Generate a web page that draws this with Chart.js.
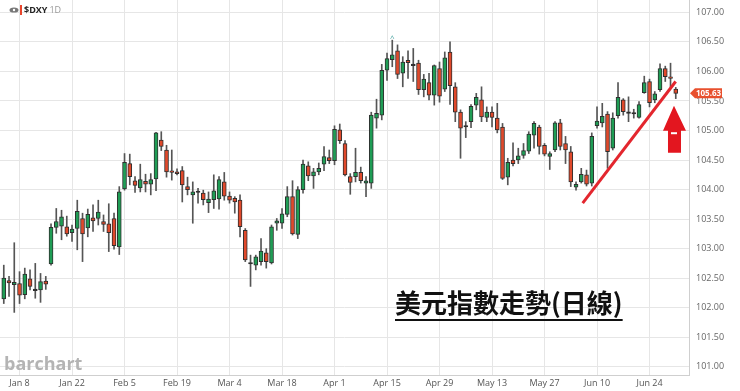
<!DOCTYPE html>
<html>
<head>
<meta charset="utf-8">
<script src="https://cdn.jsdelivr.net/npm/chart.js@4/dist/chart.umd.min.js"></script>
<style>
html, body { margin: 0; padding: 0; background: #fff; }
#wrap { position: relative; width: 740px; height: 391px; }
</style>
</head>
<body>
<div id="wrap"><canvas id="myChart" width="740" height="391"></canvas></div>
<script>
// $DXY daily candles, Jan 3 .. Jul 1 (one value per trading day)
const opens = [
  102.15, 102.46, 102.39, 102.41, 102.22, 102.49, 102.29, 102.30, 102.45, 102.74,
  103.36, 103.38, 103.37, 103.27, 103.34, 103.51, 103.35, 103.52, 103.51, 103.46,
  103.42, 103.51, 103.03, 104.01, 104.44, 104.15, 104.03, 104.14, 104.09, 104.18,
  104.84, 104.67, 104.30, 104.30, 104.32, 104.05, 103.91, 103.95, 103.94, 103.78,
  103.83, 103.84, 104.13, 103.89, 103.85, 103.82, 103.31, 102.74, 102.72, 102.78,
  102.93, 102.76, 103.43, 103.43, 103.58, 103.88, 103.24, 104.00, 104.40, 104.23,
  104.30, 104.43, 104.54, 104.49, 105.01, 104.78, 104.22, 104.22, 104.29, 104.11,
  104.11, 105.21, 105.26, 106.02, 106.20, 106.35, 105.97, 106.19, 106.10, 106.14,
  105.69, 105.81, 105.60, 106.05, 105.70, 106.33, 105.74, 105.31, 105.06, 105.15,
  105.43, 105.52, 105.22, 105.31, 105.21, 105.06, 104.21, 104.50, 104.50, 104.58,
  104.65, 104.92, 105.06, 104.75, 104.56, 104.67, 105.13, 104.78, 104.64, 104.04,
  104.13, 104.25, 104.11, 105.08, 105.13, 105.28, 104.70, 105.25, 105.52, 105.29,
  105.28, 105.22, 105.64, 105.83, 105.52, 105.69, 106.05, 105.91, 105.70
];
const highs = [
  102.72, 102.53, 103.10, 102.61, 102.67, 102.64, 102.75, 102.58, 102.53, 103.42,
  103.68, 103.65, 103.55, 103.40, 103.82, 103.60, 103.67, 103.74, 103.82, 103.57,
  103.76, 103.60, 104.05, 104.61, 104.60, 104.22, 104.43, 104.26, 104.27, 104.97,
  104.98, 104.75, 104.67, 104.35, 104.39, 104.21, 104.13, 104.02, 103.99, 103.96,
  104.25, 104.22, 104.29, 103.96, 103.88, 103.91, 103.34, 102.89, 102.89, 103.17,
  103.00, 103.40, 103.51, 103.68, 104.05, 104.15, 104.05, 104.50, 104.47, 104.36,
  104.45, 104.73, 104.67, 105.08, 105.11, 104.83, 104.27, 104.70, 104.38, 104.22,
  105.31, 105.53, 106.12, 106.31, 106.53, 106.45, 106.25, 106.35, 106.39, 106.19,
  105.95, 105.97, 106.11, 106.16, 106.33, 106.50, 105.81, 105.35, 105.15, 105.44,
  105.63, 105.74, 105.40, 105.40, 105.46, 105.12, 104.53, 104.79, 104.70, 104.78,
  104.98, 105.15, 105.09, 104.78, 104.64, 105.15, 105.19, 104.90, 104.73, 104.13,
  104.36, 104.33, 104.96, 105.40, 105.46, 105.32, 105.30, 105.81, 105.54, 105.57,
  105.36, 105.49, 105.92, 105.87, 105.66, 106.13, 106.09, 106.14, 105.73
];
const lows = [
  102.07, 102.19, 101.92, 102.07, 102.15, 102.30, 102.16, 102.09, 102.31, 102.72,
  103.26, 103.15, 103.21, 103.12, 102.98, 102.78, 103.20, 103.29, 103.40, 103.29,
  102.95, 102.99, 102.90, 103.99, 104.08, 103.95, 103.96, 103.96, 103.91, 103.98,
  104.66, 104.21, 104.16, 104.25, 103.79, 103.91, 103.43, 103.77, 103.74, 103.61,
  103.68, 103.67, 103.82, 103.77, 103.60, 103.20, 102.78, 102.36, 102.64, 102.72,
  102.67, 102.74, 103.31, 103.34, 103.54, 103.23, 103.17, 103.94, 104.15, 104.02,
  104.25, 104.32, 104.44, 104.42, 104.78, 104.23, 103.92, 104.13, 104.11, 103.88,
  104.02, 105.04, 105.18, 105.85, 106.08, 105.88, 105.74, 105.88, 105.83, 105.61,
  105.57, 105.52, 105.43, 105.48, 105.66, 105.44, 105.15, 104.53, 104.88, 105.05,
  105.35, 105.15, 105.15, 105.06, 104.96, 104.17, 104.08, 104.40, 104.44, 104.53,
  104.61, 104.70, 104.60, 104.57, 104.34, 104.64, 104.67, 104.44, 104.05, 103.99,
  104.11, 104.06, 104.06, 105.04, 105.06, 104.36, 104.67, 105.21, 105.26, 105.15,
  105.21, 105.21, 105.63, 105.40, 105.47, 105.66, 105.83, 105.74, 105.54
];
const closes = [
  102.50, 102.42, 102.43, 102.21, 102.57, 102.36, 102.29, 102.44, 102.40, 103.36,
  103.46, 103.54, 103.25, 103.33, 103.63, 103.25, 103.58, 103.47, 103.62, 103.41,
  103.27, 103.05, 103.96, 104.46, 104.22, 104.07, 104.17, 104.09, 104.17, 104.96,
  104.73, 104.30, 104.29, 104.27, 104.08, 104.00, 103.96, 103.95, 103.83, 103.84,
  103.98, 104.17, 103.89, 103.82, 103.79, 103.37, 102.81, 102.74, 102.86, 102.96,
  102.78, 103.37, 103.47, 103.59, 103.88, 103.25, 104.00, 104.43, 104.23, 104.30,
  104.36, 104.56, 104.49, 105.02, 104.83, 104.25, 104.12, 104.29, 104.15, 104.15,
  105.26, 105.29, 106.02, 106.22, 106.28, 105.95, 106.16, 106.15, 106.10, 105.69,
  105.87, 105.60, 106.10, 105.58, 106.23, 105.76, 105.31, 105.04, 105.06, 105.41,
  105.56, 105.23, 105.31, 105.22, 105.01, 104.19, 104.46, 104.44, 104.57, 104.66,
  104.94, 105.12, 104.73, 104.60, 104.61, 105.13, 104.73, 104.67, 104.13, 104.09,
  104.26, 104.09, 104.90, 105.16, 105.24, 104.64, 105.21, 105.56, 105.32, 105.29,
  105.28, 105.44, 105.81, 105.47, 105.62, 106.05, 105.91, 105.88, 105.63
];

// tick labels (bi-weekly Mondays) and the candle index they sit on
const tickAt = [3, 13, 23, 33, 43, 53, 63, 73, 83, 93, 103, 113, 123];
const tickLabels = ['Jan 8', 'Jan 22', 'Feb 5', 'Feb 19', 'Mar 4', 'Mar 18', 'Apr 1',
  'Apr 15', 'Apr 29', 'May 13', 'May 27', 'Jun 10', 'Jun 24'];
const priceTicks = [101.0, 101.5, 102.0, 102.5, 103.0, 103.5, 104.0, 104.5, 105.0, 105.5, 106.0, 106.5, 107.0];
const lastPrice = 105.63;
const highMarkAt = 74; // candle carrying the "^" high marker
// hand drawn trend line (candle index, price)
const trendLine = [{ x: 110.27, y: 103.77 }, { x: 127.98, y: 105.83 }];
const arrowTip = { x: 127.66, y: 105.42 };
const title = '美元指數走勢(日線)';

const green = '#1f9d55';
const red = '#e0492b';

const wicks = highs.map((h, i) => ({ x: i, y: [lows[i], h] }));
const bodies = opens.map((o, i) => ({ x: i, y: [o, closes[i]] }));
const bodyColors = opens.map((o, i) => closes[i] > o ? green : (closes[i] < o ? red : '#222'));

// no label overflow padding, the plot runs to the canvas edges
function noPad(s) {
    s.paddingTop = 0;
    s.paddingBottom = 0;
    s.paddingLeft = 0;
    s.paddingRight = 0;
}

// extra drawing: legend, watermark, title, arrow, price tag
const overlay = {
    id: 'overlay',
    afterDraw(chart) {
        const c = chart.ctx;
        const xs = chart.scales.x, ys = chart.scales.y;
        c.save();

        // top-left legend
        c.fillStyle = '#777';
        c.beginPath();
        c.ellipse(14, 10, 4.5, 2.6, 0, 0, Math.PI * 2);
        c.fill();
        c.fillStyle = '#fff';
        c.beginPath();
        c.arc(14, 10, 1.2, 0, Math.PI * 2);
        c.fill();
        c.fillStyle = '#e8452c';
        c.fillRect(20, 5, 2, 10);
        c.textBaseline = 'middle';
        c.font = 'bold 9px "Open Sans"';
        c.fillStyle = '#222';
        c.fillText('$DXY', 24, 10);
        const w = c.measureText('$DXY').width;
        c.font = '9px "Open Sans"';
        c.fillStyle = '#999';
        c.fillText('1D', 24 + w + 2, 10);

        // watermark
        c.font = 'bold 18px "Open Sans"';
        c.fillStyle = '#b4b4b4';
        c.textBaseline = 'alphabetic';
        c.fillText('barchart', 4, 370);

        // high marker
        c.font = '8px "Open Sans"';
        c.fillStyle = '#4aa3a0';
        c.textAlign = 'center';
        c.textBaseline = 'bottom';
        c.fillText('^', xs.getPixelForValue(highMarkAt), ys.getPixelForValue(highs[highMarkAt]) + 3);

        // title with underline
        c.font = 'bold 26px "Noto Sans CJK TC"';
        c.fillStyle = '#111';
        c.textAlign = 'left';
        c.textBaseline = 'middle';
        c.fillText(title, 395, 303);
        const tw = c.measureText(title).width;
        c.fillRect(395, 319, tw, 2);

        // red arrow pointing at the last candle
        const ax = xs.getPixelForValue(arrowTip.x), ay = ys.getPixelForValue(arrowTip.y);
        c.fillStyle = '#e3161f';
        c.beginPath();
        c.moveTo(ax, ay);
        c.lineTo(ax + 12, ay + 25);
        c.lineTo(ax + 7, ay + 25);
        c.lineTo(ax + 7, ay + 47);
        c.lineTo(ax - 6, ay + 47);
        c.lineTo(ax - 6, ay + 25);
        c.lineTo(ax - 11, ay + 25);
        c.closePath();
        c.fill();
        c.fillStyle = '#fff';
        c.fillRect(ax - 3, ay + 26.5, 6, 2);

        // last price tag
        const py = ys.getPixelForValue(lastPrice);
        const left = chart.chartArea.right + 1;
        c.fillStyle = '#e8502e';
        c.beginPath();
        c.moveTo(left, py);
        c.lineTo(left + 5, py - 5);
        c.lineTo(left + 32, py - 5);
        c.lineTo(left + 32, py + 5);
        c.lineTo(left + 5, py + 5);
        c.closePath();
        c.fill();
        c.font = 'bold 8px "Open Sans"';
        c.fillStyle = '#fff';
        c.textAlign = 'center';
        c.fillText(lastPrice.toFixed(2), left + 18.5, py + 0.5);

        c.restore();
    }
};

const ctx = document.getElementById('myChart').getContext('2d');
const chart = new Chart(ctx, {
    type: 'bar',
    data: {
        datasets: [{
            type: 'line',
            data: trendLine,
            borderColor: '#e3262e',
            borderWidth: 3,
            pointRadius: 0,
            order: 1
        }, {
            data: bodies,
            backgroundColor: bodyColors,
            borderColor: '#2f2f2f',
            borderWidth: 1,
            borderSkipped: false,
            barThickness: 4,
            minBarLength: 1.5,
            grouped: false,
            order: 2
        }, {
            data: wicks,
            backgroundColor: '#555',
            borderWidth: 0,
            barThickness: 1,
            grouped: false,
            order: 3
        }]
    },
    options: {
        responsive: false,
        animation: false,
        devicePixelRatio: 1,
        layout: { padding: 0 },
        plugins: {
            legend: { display: false },
            tooltip: { enabled: false }
        },
        scales: {
            x: {
                type: 'linear',
                min: -0.72,
                max: 130.52,
                offset: false,
                grid: { color: '#e6e6e6', drawTicks: false, offset: false },
                border: { display: true, color: '#cfcfcf' },
                ticks: {
                    autoSkip: false,
                    maxRotation: 0,
                    padding: 3,
                    color: '#555',
                    font: { size: 9, family: 'Open Sans' },
                    callback: (v, i) => tickLabels[i]
                },
                afterBuildTicks: s => { s.ticks = tickAt.map(v => ({ value: v })); },
                afterFit: s => { s.height = 16; noPad(s); }
            },
            y: {
                position: 'right',
                min: 100.86,
                max: 107.21,
                grid: { color: '#e6e6e6', drawTicks: false },
                border: { display: true, color: '#cfcfcf' },
                ticks: {
                    padding: 7,
                    color: '#666',
                    font: { size: 9, family: 'Open Sans' },
                    callback: v => v.toFixed(2)
                },
                afterBuildTicks: s => { s.ticks = priceTicks.map(v => ({ value: v })); },
                afterFit: s => { s.width = 51; noPad(s); }
            }
        }
    },
    plugins: [overlay]
});
</script>
</body>
</html>
